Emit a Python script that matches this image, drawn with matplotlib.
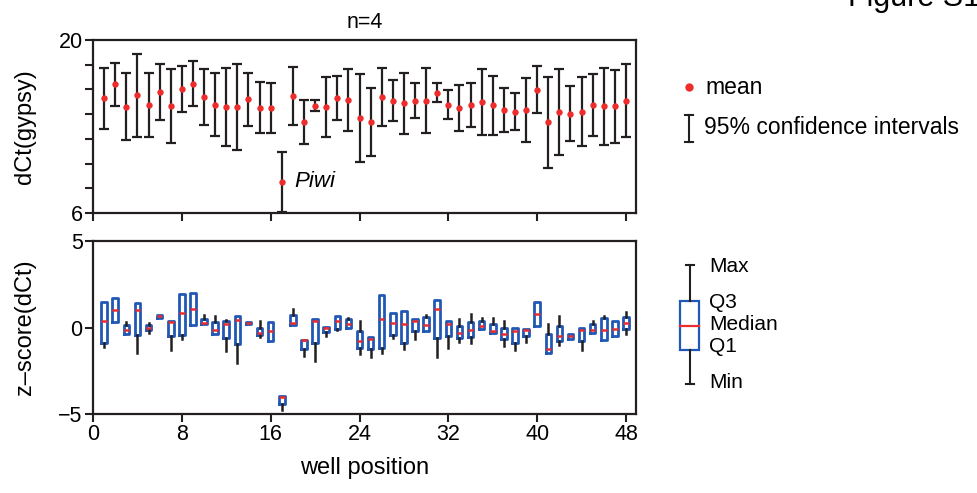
import matplotlib
matplotlib.use("Agg")
import matplotlib.pyplot as plt
from matplotlib.patches import Rectangle
from matplotlib.ticker import MultipleLocator

plt.rcParams['font.family'] = ['Liberation Sans', 'DejaVu Sans']

wells = list(range(1, 49))

# top panel: mean dCt and 95% CI
mean_ct = [15.28, 16.41, 14.60, 15.52, 14.74, 15.77, 14.66, 16.01, 16.46, 15.39, 14.77, 14.55,
           14.55, 15.20, 14.52, 14.47, 8.51, 15.47, 13.37, 14.69, 14.60, 15.31, 15.15, 13.66,
           13.39, 15.39, 15.09, 14.88, 15.09, 15.09, 15.71, 14.77, 14.47, 14.71, 14.96, 14.71,
           14.34, 14.17, 14.36, 15.95, 13.34, 14.17, 14.01, 14.17, 14.71, 14.63, 14.63, 15.09]
ci_hi = [17.76, 18.14, 17.36, 18.89, 17.33, 18.06, 17.65, 17.92, 18.30, 17.63, 17.30, 17.76,
         18.06, 17.36, 16.60, 16.52, 10.94, 17.84, 15.12, 15.12, 17.03, 17.09, 17.63, 17.22,
         16.12, 17.71, 16.79, 17.36, 16.52, 17.73, 16.49, 15.93, 16.36, 16.49, 17.65, 17.11,
         16.14, 15.69, 16.95, 17.90, 17.01, 17.63, 16.25, 16.98, 17.25, 17.73, 17.57, 18.08]
ci_lo = [12.80, 14.63, 11.91, 12.13, 12.18, 13.53, 11.64, 14.17, 14.63, 13.12, 12.23, 11.40,
         11.07, 13.04, 12.45, 12.48, 6.08, 13.12, 11.59, 14.26, 12.15, 13.53, 12.64, 10.16,
         10.64, 13.04, 13.42, 12.42, 13.66, 12.45, 14.96, 13.61, 12.64, 12.96, 12.29, 12.31,
         12.56, 12.69, 11.77, 14.09, 9.67, 10.72, 11.85, 11.40, 12.26, 11.53, 11.69, 12.15]

# bottom panel: z-score box stats
z_max = [1.50, 1.73, 0.29, 1.43, 0.27, 0.73, 0.39, 1.95, 2.02, 0.72, 0.64, 0.46,
         0.69, 0.33, 0.35, 0.29, -3.95, 1.08, -0.71, 0.50, 0.04, 0.69, 0.54, 0.35,
         -0.54, 1.87, 0.81, 0.97, 0.50, 0.72, 1.60, 0.35, 0.49, 0.79, 0.54, 0.54,
         0.39, -0.04, -0.08, 1.45, 0.23, 0.69, -0.38, 0.00, 0.39, 0.66, 0.40, 0.92]
z_q3 = [1.50, 1.73, 0.16, 1.43, 0.16, 0.73, 0.39, 1.95, 2.02, 0.52, 0.29, 0.35,
        0.69, 0.33, 0.00, 0.29, -3.95, 0.73, -0.71, 0.50, 0.04, 0.69, 0.49, -0.23,
        -0.54, 1.87, 0.81, 0.97, 0.50, 0.58, 1.60, 0.35, 0.10, 0.33, 0.35, 0.21,
        0.00, -0.04, -0.08, 1.45, -0.38, 0.10, -0.38, 0.00, 0.21, 0.54, 0.40, 0.58]
z_med = [0.39, 1.04, -0.17, 1.04, 0.00, 0.68, 0.31, 0.85, 1.08, 0.27, -0.17, 0.23,
         0.43, 0.25, -0.31, -0.19, -4.00, 0.27, -0.73, 0.39, 0.00, 0.39, 0.23, -0.77,
         -0.67, 0.49, 0.25, 0.23, 0.39, 0.16, 1.08, 0.23, -0.31, -0.13, 0.06, -0.23,
         -0.35, -0.23, -0.12, 0.79, -1.23, -0.52, -0.52, -0.12, -0.12, -0.17, -0.09, 0.27]
z_q1 = [-0.90, 0.31, -0.36, -0.42, -0.17, 0.56, -0.52, -0.42, 0.12, 0.20, -0.38, -0.58,
        -0.94, 0.20, -0.42, -0.77, -4.43, 0.16, -1.23, -0.87, -0.27, -0.09, -0.04, -1.19,
        -1.27, -1.21, -0.46, -0.88, -0.19, -0.19, -0.58, -0.48, -0.58, -0.54, -0.09, -0.32,
        -0.69, -0.87, -0.48, 0.08, -1.45, -0.77, -0.67, -0.77, -0.29, -0.71, -0.50, -0.08]
z_min = [-1.12, 0.31, -0.36, -1.48, -0.31, 0.56, -1.31, -0.67, 0.12, 0.20, -0.38, -1.35,
         -2.06, 0.20, -0.54, -0.77, -4.76, 0.16, -1.65, -1.96, -0.52, -0.17, -0.04, -1.52,
         -1.69, -1.48, -0.58, -1.23, -0.67, -0.19, -1.69, -1.19, -0.84, -0.90, -0.09, -0.32,
         -1.06, -1.31, -0.81, 0.08, -1.45, -1.00, -0.67, -1.31, -0.29, -0.71, -0.50, -0.38]

RED = '#ee2c2c'
BLUE = '#2158b5'
BLK = '#231f20'

fig = plt.figure(figsize=(9.78, 4.93), dpi=100)
ax1 = fig.add_axes([93/978, 1-213/493, 543/978, 173/493])
ax2 = fig.add_axes([93/978, 1-414/493, 543/978, 173/493])

for ax in (ax1, ax2):
    for s in ax.spines.values():
        s.set_linewidth(1.6)
        s.set_color(BLK)
    ax.tick_params(which='both', direction='out', length=5.5, width=1.5, color=BLK,
                   labelsize=15.5, top=False, right=False, pad=2)
    ax.set_xlim(0, 48.9)
    ax.set_xticks(range(0, 49, 8))

# top: means with CI
err = [[m - l for m, l in zip(mean_ct, ci_lo)], [h - m for m, h in zip(mean_ct, ci_hi)]]
ax1.errorbar(wells, mean_ct, yerr=err, fmt='none', ecolor=BLK, elinewidth=1.6,
             capsize=3.3, capthick=1.6, zorder=2)
ax1.plot(wells, mean_ct, 'o', color=RED, ms=4.6, mec='none', zorder=3)
ax1.set_ylim(6, 20)
ax1.set_yticks([6, 20])
ax1.yaxis.set_minor_locator(MultipleLocator(2))
ax1.tick_params(labelbottom=False)
ax1.text(18.1, mean_ct[16], 'Piwi', style='italic', fontsize=16, va='center', ha='left')
ax1.set_title('n=4', fontsize=15.5, pad=9)

# bottom: box plots
stats = []
for i in range(len(wells)):
    stats.append({'med': z_med[i], 'q1': z_q1[i], 'q3': z_q3[i],
                  'whislo': z_min[i], 'whishi': z_max[i], 'fliers': []})
ax2.bxp(stats, positions=wells, widths=0.5, showcaps=False, showfliers=False,
        manage_ticks=False,
        boxprops=dict(color=BLUE, linewidth=2.0),
        medianprops=dict(color=RED, linewidth=1.8),
        whiskerprops=dict(color=BLK, linewidth=1.8))
ax2.set_ylim(-5, 5)
ax2.set_yticks([-5, 0, 5])
ax2.set_xticks(range(0, 49, 8))
ax2.set_xlim(0, 48.9)
ax2.set_xlabel('well position', fontsize=17, labelpad=8)

fig.text(25/978, 1-127/493, 'dCt(gypsy)', rotation=90, fontsize=17, ha='center', va='center')
fig.text(25/978, 1-327/493, 'z\u2013score(dCt)', rotation=90, fontsize=17, ha='center', va='center')
fig.text(848/978, 1-6/493, 'Figure S1', fontsize=22, ha='left', va='baseline')

# legends drawn in pixel space
lg = fig.add_axes([0, 0, 1, 1], facecolor='none')
lg.set_xlim(0, 978)
lg.set_ylim(493, 0)
lg.axis('off')
lg.plot([689], [87], 'o', color=RED, ms=6, mec='none')
lg.text(705, 87, 'mean', fontsize=16.5, va='center')
lg.plot([689, 689], [115, 142], color=BLK, lw=1.5)
lg.plot([685, 693], [115, 115], color=BLK, lw=1.5)
lg.plot([685, 693], [142, 142], color=BLK, lw=1.5)
lg.text(704, 128, '95% confidence intervals', fontsize=16.5, va='center')

lg.plot([690, 690], [265, 301], color=BLK, lw=1.5)
lg.plot([690, 690], [350, 384], color=BLK, lw=1.5)
lg.plot([686, 694], [265, 265], color=BLK, lw=1.5)
lg.plot([686, 694], [384, 384], color=BLK, lw=1.5)
lg.add_patch(Rectangle((680, 301), 19, 49, fill=False, ec=BLUE, lw=1.6))
lg.plot([680, 699], [326, 326], color=RED, lw=1.6)
for txt, yy in [('Max', 266), ('Q3', 303), ('Median', 325), ('Q1', 347), ('Min', 383)]:
    lg.text(709, yy, txt, fontsize=15, va='center')

fig.savefig('out.png', dpi=100)
